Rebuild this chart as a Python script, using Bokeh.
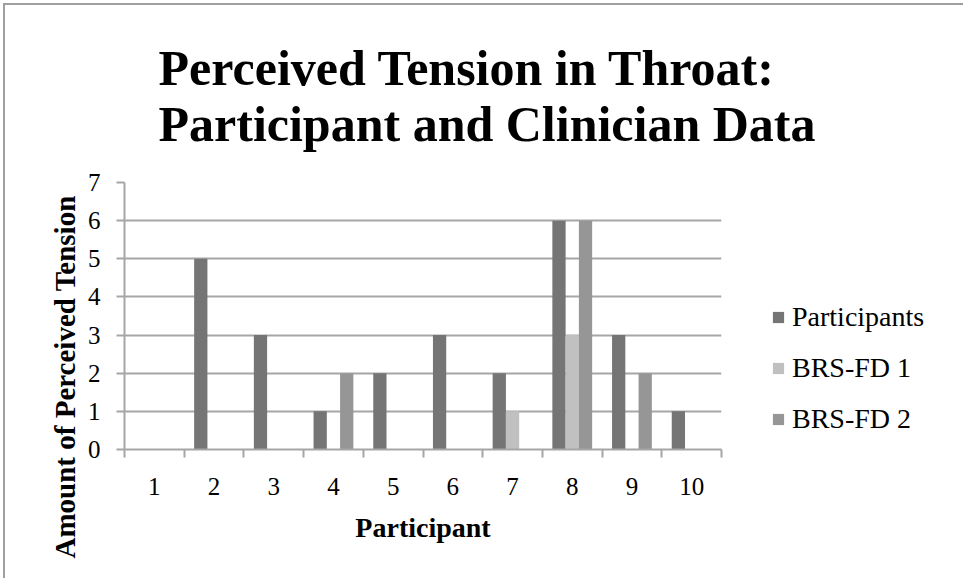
from bokeh.plotting import figure
from bokeh.models import FixedTicker, Range1d, Legend, LegendItem, Title, ColumnDataSource
from bokeh.embed import file_html
from bokeh.resources import INLINE

# ---- data ----
participant_ids = [1, 2, 3, 4, 5, 6, 7, 8, 9, 10]
participants = [0, 5, 3, 1, 2, 3, 2, 6, 3, 1]
brs_fd_1 = [0, 0, 0, 0, 0, 0, 1, 3, 0, 0]
brs_fd_2 = [0, 0, 0, 2, 0, 0, 0, 6, 2, 0]
series_names = ["Participants", "BRS-FD 1", "BRS-FD 2"]
y_ticks = [0, 1, 2, 3, 4, 5, 6, 7]
title_lines = ["Perceived Tension in Throat:", "Participant and Clinician Data"]
x_title = "Participant"
y_title = "Amount of Perceived Tension"

# ---- style ----
colors = ["#757575", "#c0c0c0", "#969696"]
grid_col = "#a6a6a6"
serif = "Liberation Serif"
n_series = len(series_names)
bar_w = 1.0 / (n_series + 1.5)   # Excel gap width 150%

p = figure(
    width=957, height=573,
    frame_width=597, frame_height=267,
    min_border_left=119, min_border_top=177, min_border_right=241, min_border_bottom=129,
    x_range=Range1d(participant_ids[0] - 0.5, participant_ids[-1] + 0.5),
    y_range=Range1d(y_ticks[0], y_ticks[-1]),
    output_backend="svg", toolbar_location=None, title=None,
    background_fill_color="white", border_fill_color="white",
)
p.outline_line_color = None
p.styles = {"border": "2px solid #a0a0a0", "box-sizing": "border-box",
            "margin-left": "3px", "margin-top": "3px"}

all_series = [participants, brs_fd_1, brs_fd_2]
renderers = []
for k, (vals, col) in enumerate(zip(all_series, colors)):
    off = (k - (n_series - 1) / 2) * bar_w
    src = ColumnDataSource(dict(x=[c + off for c in participant_ids], top=vals))
    r = p.vbar(x="x", top="top", bottom=0, width=bar_w, source=src,
               fill_color=col, line_color=None)
    renderers.append(r)

# grid
p.xgrid.grid_line_color = None
p.ygrid.grid_line_color = grid_col
p.ygrid.grid_line_width = 2
p.ygrid.ticker = FixedTicker(ticks=y_ticks)

# y axis
ya = p.yaxis[0]
ya.ticker = FixedTicker(ticks=y_ticks)
ya.axis_line_color = grid_col
ya.axis_line_width = 2
ya.major_tick_line_color = grid_col
ya.major_tick_line_width = 2
ya.major_tick_out = 8
ya.major_tick_in = 0
ya.minor_tick_line_color = None
ya.major_label_text_font = serif
ya.major_label_text_font_size = "25px"
ya.major_label_text_color = "black"
ya.major_label_standoff = 16

# x axis
xa = p.xaxis[0]
xa.ticker = FixedTicker(ticks=participant_ids,
                        minor_ticks=[c - 0.5 for c in participant_ids] + [participant_ids[-1] + 0.5])
xa.axis_line_color = grid_col
xa.axis_line_width = 2
xa.major_tick_line_color = None
xa.major_tick_out = 0
xa.major_tick_in = 0
xa.minor_tick_line_color = grid_col
xa.minor_tick_line_width = 2
xa.minor_tick_out = 8
xa.minor_tick_in = 0
xa.major_label_text_font = serif
xa.major_label_text_font_size = "25px"
xa.major_label_text_color = "black"
xa.major_label_standoff = 20
xa.axis_label = x_title
xa.axis_label_text_font = serif
xa.axis_label_text_font_size = "28px"
xa.axis_label_text_font_style = "bold"
xa.axis_label_text_color = "black"
xa.axis_label_standoff = 14

# y title as side title (so it can be shifted along the axis)
p.add_layout(Title(text=y_title, text_font=serif, text_font_size="29px",
                   text_font_style="bold", text_color="black", align="left",
                   offset=-109, standoff=8), "left")

# two-line chart title
p.add_layout(Title(text="\n".join(title_lines), text_font=serif, text_font_size="50px",
                   text_font_style="bold", text_color="black", align="left",
                   offset=34, standoff=62, text_line_height=1.0), "above")

legend = Legend(
    items=[LegendItem(label=n, renderers=[r]) for n, r in zip(series_names, renderers)],
    location=(50, 14),
    glyph_width=14, glyph_height=14,
    label_text_font=serif, label_text_font_size="28px", label_text_color="black",
    label_height=28, spacing=19, padding=0, margin=0,
    border_line_color=None, background_fill_alpha=0,
    label_standoff=7,
)
p.add_layout(legend, "right")

open("out.html", "w").write(file_html(p, INLINE))
